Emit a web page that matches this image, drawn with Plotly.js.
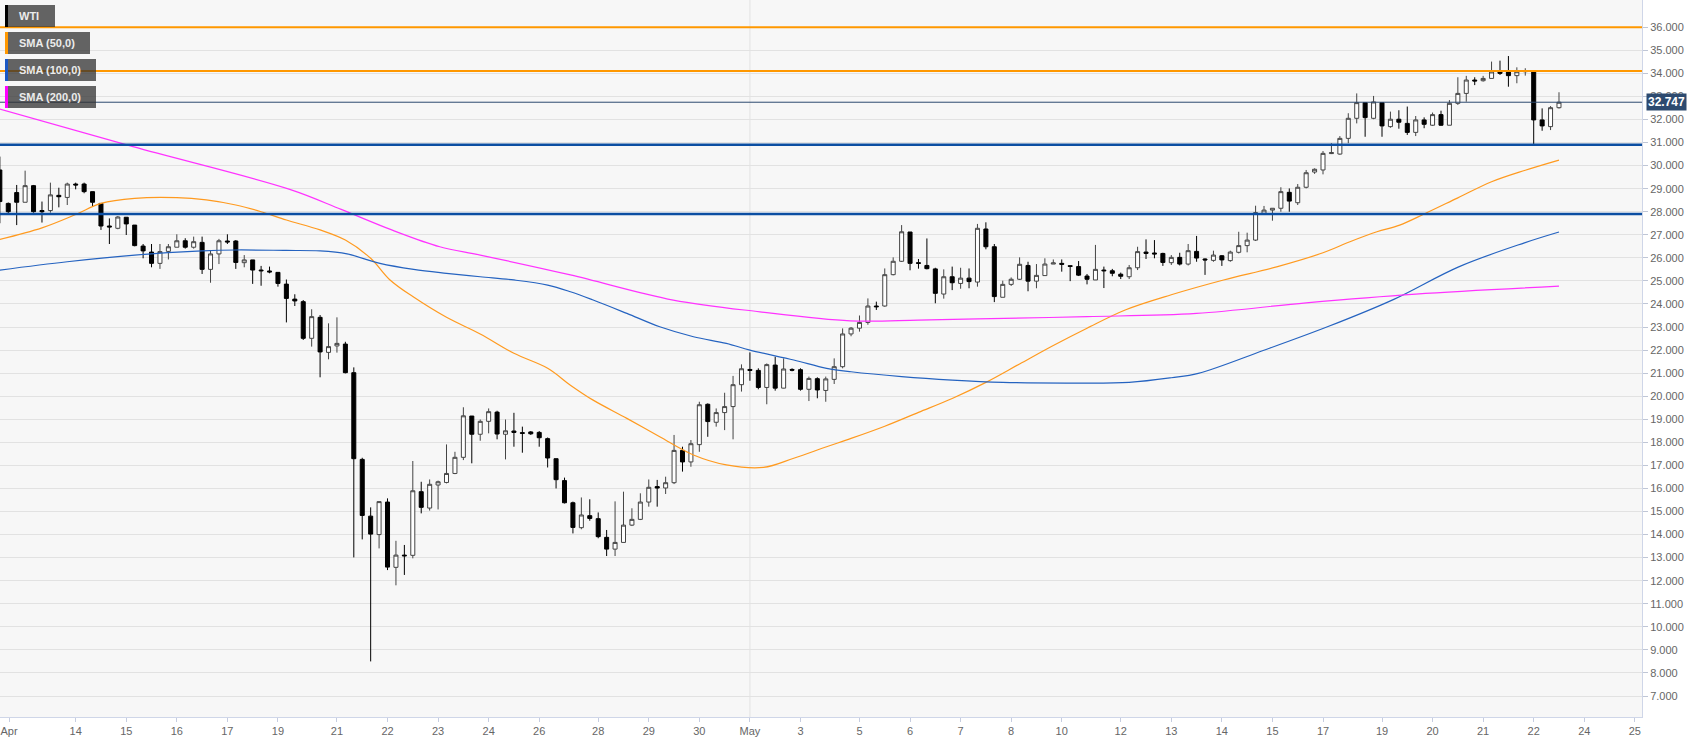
<!DOCTYPE html>
<html>
<head>
<meta charset="utf-8">
<script src="https://cdn.plot.ly/plotly-3.0.1.min.js"></script>
<style>
  html, body { margin: 0; padding: 0; background: #ffffff; }
  #chart { width: 1707px; height: 743px; }
</style>
</head>
<body>
<div id="chart"></div>
<script>
// ---------- DATA (4-hour WTI candles, index 0 = Apr 14 00:00) ----------
const FIRST_INDEX = -9;

const openP = [
  29.81, 28.36, 28.83, 28.41, 29.13, 28.05, 28.05, 28.71, 28.62,
  29.20, 29.20, 28.87, 28.36, 27.38, 27.28, 27.76, 27.42, 26.51, 26.25,
  25.76, 26.28, 26.46, 26.74, 26.46, 26.67, 25.50, 26.17, 26.73, 26.73,
  25.79, 25.91, 25.47, 25.43, 25.37, 24.86, 24.21, 24.10, 22.51, 23.42,
  21.90, 22.18, 22.26, 21.02, 17.26, 14.80, 14.00, 15.41, 12.58, 13.11,
  13.10, 15.86, 15.15, 16.15, 16.26, 16.65, 17.35, 19.14, 18.35, 18.91,
  19.31, 18.35, 18.49, 18.42, 18.45, 18.43, 18.16, 17.29, 16.34, 15.38,
  14.30, 14.82, 14.69, 13.88, 13.37, 13.66, 14.41, 14.66, 15.41, 16.08,
  16.02, 16.25, 17.65, 17.15, 17.90, 19.65, 18.87, 19.29, 19.55, 20.50,
  21.16, 21.12, 20.38, 21.35, 20.35, 21.16, 21.15, 20.30, 20.76, 20.25,
  20.73, 21.28, 22.70, 22.95, 23.20, 23.91, 23.91, 25.27, 25.85, 27.12,
  25.79, 25.67, 25.52, 24.43, 25.18, 24.89, 25.12, 24.95, 27.25, 26.48,
  24.29, 24.85, 25.07, 25.67, 24.99, 25.23, 25.73, 25.76, 25.66, 25.62,
  25.21, 25.04, 25.47, 25.44, 25.29, 25.18, 25.57, 26.25, 26.21, 26.19,
  25.79, 26.02, 25.73, 26.28, 25.95, 25.89, 26.09, 25.88, 26.24, 26.53,
  26.77, 27.93, 28.07, 28.15, 28.84, 28.39, 29.06, 29.72, 29.81, 30.52,
  30.50, 31.18, 32.05, 32.73, 32.05, 32.73, 31.69, 32.01, 31.83, 31.44,
  31.98, 31.75, 32.21, 31.75, 32.70, 33.13, 33.71, 33.68, 33.78, 34.06,
  34.07, 33.90, 34.07, 34.07, 31.98, 31.69, 32.51
];
const highP = [
  30.39, 28.40, 29.16, 29.78, 29.16, 28.44, 29.26, 29.04, 29.26,
  29.26, 29.26, 28.87, 28.36, 27.71, 27.81, 27.76, 27.42, 26.60, 26.60,
  26.60, 26.60, 27.02, 26.85, 26.92, 26.92, 26.34, 26.82, 27.02, 26.77,
  26.12, 25.91, 25.65, 25.62, 25.37, 25.06, 24.42, 24.17, 23.77, 23.52,
  23.16, 23.42, 22.36, 21.25, 17.33, 15.18, 15.43, 15.57, 13.73, 13.55,
  17.19, 16.29, 16.39, 16.34, 17.91, 17.59, 19.52, 19.14, 18.99, 19.47,
  19.37, 18.99, 19.28, 18.68, 18.49, 18.49, 18.21, 17.29, 16.47, 15.43,
  15.61, 15.53, 14.96, 14.20, 15.44, 15.86, 15.14, 15.79, 16.39, 16.37,
  16.51, 18.32, 17.81, 18.10, 19.76, 19.69, 19.47, 20.15, 20.88, 21.38,
  21.90, 21.21, 21.42, 21.71, 21.64, 21.21, 21.21, 20.85, 20.82, 20.85,
  21.64, 22.94, 23.00, 23.50, 24.24, 24.10, 25.54, 26.02, 27.42, 27.12,
  25.95, 26.84, 25.57, 25.50, 25.62, 25.57, 25.54, 27.47, 27.54, 26.60,
  25.01, 25.15, 26.02, 25.83, 25.73, 25.98, 25.93, 25.93, 25.66, 25.86,
  25.30, 26.56, 25.62, 25.52, 25.36, 25.69, 26.48, 26.80, 26.77, 26.22,
  26.12, 26.22, 26.60, 26.95, 25.98, 26.31, 26.12, 26.31, 27.13, 27.09,
  28.26, 28.25, 28.15, 29.06, 29.01, 29.20, 29.81, 29.88, 30.63, 30.97,
  31.28, 32.27, 33.13, 32.73, 33.02, 32.73, 32.34, 32.40, 32.56, 32.15,
  32.09, 32.30, 32.38, 32.84, 33.83, 33.89, 33.83, 33.89, 34.51, 34.55,
  34.75, 34.26, 34.22, 34.07, 32.48, 32.58, 33.18
];
const lowP = [
  27.50, 27.93, 27.42, 28.41, 27.96, 27.53, 27.96, 28.19, 28.29,
  28.97, 28.80, 28.22, 27.21, 26.60, 27.24, 26.99, 26.50, 25.98, 25.59,
  25.52, 25.93, 26.46, 26.40, 26.40, 25.30, 24.92, 25.73, 26.60, 25.52,
  25.59, 24.87, 24.79, 25.33, 24.75, 23.20, 23.91, 22.44, 22.15, 20.82,
  21.60, 21.89, 20.99, 13.01, 13.79, 8.50, 13.40, 12.46, 11.80, 12.25,
  12.97, 14.92, 15.04, 15.09, 16.22, 16.62, 17.23, 17.09, 18.07, 18.39,
  18.13, 17.26, 17.81, 17.55, 18.32, 17.81, 16.91, 16.00, 15.35, 14.05,
  14.23, 14.60, 13.84, 13.07, 13.07, 13.66, 14.37, 14.63, 15.21, 15.21,
  15.76, 16.19, 16.73, 16.94, 17.59, 18.24, 18.68, 18.53, 18.13, 20.20,
  20.67, 20.30, 19.65, 20.24, 20.34, 21.08, 20.24, 19.79, 19.91, 19.76,
  20.53, 21.21, 22.60, 22.80, 23.10, 23.74, 23.88, 25.24, 25.82, 25.46,
  25.53, 25.50, 24.03, 24.23, 24.60, 24.66, 24.68, 24.75, 26.37, 24.08,
  24.29, 24.78, 25.04, 24.55, 24.68, 25.23, 25.73, 25.40, 24.99, 25.21,
  24.85, 25.04, 24.69, 25.20, 25.08, 25.08, 25.47, 25.95, 25.98, 25.65,
  25.69, 25.67, 25.67, 25.83, 25.26, 25.83, 25.65, 25.83, 26.19, 26.24,
  26.73, 27.86, 27.61, 28.00, 28.00, 28.29, 29.01, 29.64, 29.62, 30.50,
  30.47, 30.97, 31.83, 31.25, 32.01, 31.25, 31.64, 31.60, 31.33, 31.28,
  31.62, 31.72, 31.72, 31.75, 32.63, 32.77, 33.49, 33.64, 33.78, 33.93,
  33.42, 33.57, 33.90, 30.91, 31.51, 31.54, 32.47
];
const closeP = [
  28.44, 28.00, 28.41, 29.13, 28.00, 28.00, 28.73, 28.65, 29.20,
  29.16, 28.87, 28.41, 27.38, 27.34, 27.77, 27.47, 26.53, 26.30, 25.76,
  26.27, 26.48, 26.74, 26.46, 26.70, 25.50, 26.17, 26.74, 26.69, 25.80,
  25.91, 25.47, 25.44, 25.39, 24.89, 24.24, 24.13, 22.51, 23.45, 21.92,
  22.15, 22.29, 21.02, 17.29, 14.83, 14.02, 15.43, 12.59, 13.11, 13.08,
  15.90, 15.18, 16.18, 16.29, 16.65, 17.35, 19.15, 18.35, 18.91, 19.33,
  18.36, 18.50, 18.43, 18.39, 18.37, 18.20, 17.32, 16.38, 15.38, 14.31,
  14.85, 14.70, 13.91, 13.37, 13.66, 14.41, 14.66, 15.41, 16.05, 16.02,
  16.25, 17.65, 17.15, 17.94, 19.63, 18.90, 19.29, 19.55, 20.50, 21.19,
  21.12, 20.38, 21.37, 20.35, 21.18, 21.13, 20.30, 20.77, 20.27, 20.75,
  21.28, 22.70, 22.95, 23.20, 23.91, 23.88, 25.27, 25.85, 27.13, 25.76,
  25.76, 25.53, 24.46, 25.18, 24.92, 25.12, 24.97, 27.28, 26.48, 24.32,
  24.85, 25.07, 25.72, 24.99, 25.24, 25.73, 25.78, 25.72, 25.63, 25.25,
  25.07, 25.50, 25.44, 25.33, 25.20, 25.57, 26.27, 26.19, 26.17, 25.80,
  26.02, 25.73, 26.31, 25.99, 25.91, 26.12, 25.91, 26.25, 26.53, 26.77,
  27.96, 28.07, 28.15, 28.87, 28.46, 29.06, 29.69, 29.84, 30.53, 30.56,
  31.18, 32.05, 32.73, 32.08, 32.76, 31.72, 32.01, 31.88, 31.44, 31.98,
  31.79, 32.21, 31.75, 32.70, 33.13, 33.71, 33.67, 33.78, 34.06, 34.00,
  33.90, 34.07, 34.12, 31.98, 31.72, 32.51, 32.747
];

// Moving averages (candle index, value)
const sma50X = [-9, -4, 0, 3, 7, 12, 15.5, 19, 22, 25, 29, 32, 35, 37.3, 40, 44, 48, 52, 56, 58.7,
  61.4, 65.4, 69.3, 73.3, 77.2, 81.6, 85.2, 89.1, 92, 96, 100, 104, 108, 112, 116, 120, 124.6,
  130, 136.2, 142.5, 148, 151.2, 154.4, 157.1, 160, 164, 168, 172, 176];
const sma50Y = [26.80, 27.30, 27.88, 28.36, 28.58, 28.61, 28.51, 28.29, 28.00, 27.64, 27.21, 26.77, 25.98, 25.04, 24.32, 23.42, 22.70, 21.86, 21.21, 20.48,
  19.83, 19.04, 18.24, 17.45, 17.02, 16.91, 17.31, 17.81, 18.17, 18.70, 19.30, 19.90, 20.60, 21.40, 22.20, 22.95, 23.75,
  24.40, 25.04, 25.61, 26.22, 26.70, 27.13, 27.42, 27.90, 28.60, 29.30, 29.80, 30.24];

const sma100X = [-9, -1, 7, 15, 19, 25, 29, 32.2, 36.1, 40.1, 44, 48, 52, 56, 58.7, 61.4, 65.4, 69.3,
  73.3, 77.2, 80, 85.2, 89.1, 92, 98, 104, 110, 118, 125, 130, 133.2, 140.9, 148.6, 156.4, 164.1, 171.9, 176];
const sma100Y = [25.47, 25.83, 26.12, 26.30, 26.34, 26.32, 26.30, 26.17, 25.76, 25.50, 25.33, 25.18, 25.04, 24.82, 24.53, 24.17, 23.59, 23.01,
  22.58, 22.29, 22.00, 21.57, 21.21, 21.06, 20.85, 20.70, 20.60, 20.57, 20.60, 20.80, 20.99, 21.98, 23.02, 24.20, 25.61, 26.65, 27.12];

const sma200X = [-9, 6.8, 25.4, 31.5, 37.5, 43.2, 48, 58.7, 70.9, 81.2, 91.9, 100, 107, 120, 133, 146, 159, 176];
const sma200Y = [32.45, 30.82, 28.97, 28.10, 27.21, 26.48, 26.12, 25.26, 24.17, 23.66, 23.27, 23.30, 23.35, 23.45, 23.59, 24.05, 24.43, 24.77];

// Horizontal levels
const resistanceLevels = [36.0, 34.1];
const supportLevels = [30.9, 27.9];
const lastPrice = 32.747;
const monthStartIndex = [80];

// Axis ticks
const dayTickPos = [-7.9, 0, 6, 12, 18, 24, 31, 37, 43, 49, 55, 62, 68, 74, 80, 86, 93, 99, 105, 111, 117, 124, 130, 136, 142, 148, 155, 161, 167, 173, 179, 185];
const dayTickText = ['Apr','14','15','16','17','19','21','22','23','24','26','28','29','30','May','3','5','6','7','8','10','12','13','14','15','17','19','20','21','22','24','25'];
const priceTicks = [7,8,9,10,11,12,13,14,15,16,17,18,19,20,21,22,23,24,25,26,27,28,29,30,31,32,33,34,35,36];

// Legend entries
const legendNames = ['WTI', 'SMA (50,0)', 'SMA (100,0)', 'SMA (200,0)'];
const legendColors = ['#000000', '#ff9800', '#1a57c4', '#ff00ff'];
const legendWidths = [50, 85, 91, 91];

// ---------- BUILD ----------
const xIdx = openP.map((_, k) => FIRST_INDEX + k);

const traces = [
  {
    type: 'candlestick',
    x: xIdx, open: openP, high: highP, low: lowP, close: closeP,
    increasing: { line: { color: '#444444', width: 1 }, fillcolor: '#ffffff' },
    decreasing: { line: { color: '#000000', width: 1 }, fillcolor: '#000000' },
    whiskerwidth: 0,
    hoverinfo: 'skip',
    showlegend: false
  },
  { type: 'scatter', mode: 'lines', x: sma50X, y: sma50Y, line: { color: '#ff9a1f', width: 1.2, shape: 'spline' }, hoverinfo: 'skip', showlegend: false },
  { type: 'scatter', mode: 'lines', x: sma100X, y: sma100Y, line: { color: '#2563c0', width: 1.2, shape: 'spline' }, hoverinfo: 'skip', showlegend: false },
  { type: 'scatter', mode: 'lines', x: sma200X, y: sma200Y, line: { color: '#ff33ff', width: 1.2, shape: 'spline' }, hoverinfo: 'skip', showlegend: false }
];

const PW = 1642, PH = 717;
const shapes = [];
monthStartIndex.forEach(v => shapes.push({
  type: 'line', xref: 'x', yref: 'paper', x0: v, x1: v, y0: 0, y1: 1,
  line: { color: '#e2e2e2', width: 1 }, layer: 'below'
}));
resistanceLevels.forEach(v => shapes.push({
  type: 'line', xref: 'paper', yref: 'y', x0: 0, x1: 1, y0: v, y1: v,
  line: { color: '#ff9800', width: 2 }
}));
supportLevels.forEach(v => shapes.push({
  type: 'line', xref: 'paper', yref: 'y', x0: 0, x1: 1, y0: v, y1: v,
  line: { color: '#0b4ea2', width: 2.5 }
}));
shapes.push({
  type: 'line', xref: 'paper', yref: 'y', x0: 0, x1: 1, y0: lastPrice, y1: lastPrice,
  line: { color: '#2d4a6f', width: 1 }
});

const annotations = [];
legendNames.forEach((name, k) => {
  const top = 5 + k * 27, bottom = top + 22;
  shapes.push({
    type: 'rect', xref: 'paper', yref: 'paper',
    x0: 8 / PW, x1: (5 + legendWidths[k]) / PW, y0: 1 - bottom / PH, y1: 1 - top / PH,
    fillcolor: 'rgba(50,50,50,0.75)', line: { width: 0 }
  });
  shapes.push({
    type: 'rect', xref: 'paper', yref: 'paper',
    x0: 5 / PW, x1: 8 / PW, y0: 1 - bottom / PH, y1: 1 - top / PH,
    fillcolor: legendColors[k], line: { width: 0 }
  });
  annotations.push({
    xref: 'paper', yref: 'paper', x: 17 / PW, y: 1 - (top + 11) / PH,
    xanchor: 'left', yanchor: 'middle', showarrow: false,
    text: '<b>' + name + '</b>',
    font: { family: 'Liberation Sans, Arial, sans-serif', size: 11, color: '#ececec' }
  });
});
annotations.push({
  xref: 'paper', yref: 'y', x: 1, y: lastPrice, xanchor: 'left', yanchor: 'middle',
  xshift: 4, showarrow: false, text: '<b>' + lastPrice.toFixed(3) + '</b>',
  bgcolor: '#2d4a6f', borderpad: 1,
  font: { family: 'Liberation Sans, Arial, sans-serif', size: 12, color: '#ffffff' }
});

const layout = {
  width: 1707, height: 743,
  margin: { l: 0, r: 65, t: 0, b: 26, pad: 0 },
  paper_bgcolor: '#ffffff',
  plot_bgcolor: '#f7f7f7',
  showlegend: false,
  hovermode: false,
  font: { family: 'Liberation Sans, Arial, sans-serif', size: 11, color: '#666666' },
  xaxis: {
    type: 'linear',
    range: [-8.98, 185.85],
    tickmode: 'array', tickvals: dayTickPos, ticktext: dayTickText,
    ticks: 'outside', ticklen: 4, tickcolor: '#c6cde0',
    ticklabeloverflow: 'allow',
    showgrid: false, zeroline: false,
    showline: true, linecolor: '#cfd6e8', linewidth: 1, mirror: true,
    tickfont: { size: 11, color: '#666666' },
    rangeslider: { visible: false }
  },
  yaxis: {
    side: 'right',
    range: [6.09, 37.18],
    tickmode: 'array', tickvals: priceTicks,
    tickformat: '.3f',
    ticks: 'outside', ticklen: 5, tickcolor: '#bfc6d6',
    showgrid: true, gridcolor: '#e2e2e2', gridwidth: 1,
    zeroline: false,
    showline: true, linecolor: '#cfd6e8', linewidth: 1, mirror: true,
    tickfont: { size: 11, color: '#666666' }
  },
  boxgap: 0.32,
  shapes: shapes,
  annotations: annotations
};

Plotly.newPlot('chart', traces, layout, { displayModeBar: false, staticPlot: true });
</script>
</body>
</html>
